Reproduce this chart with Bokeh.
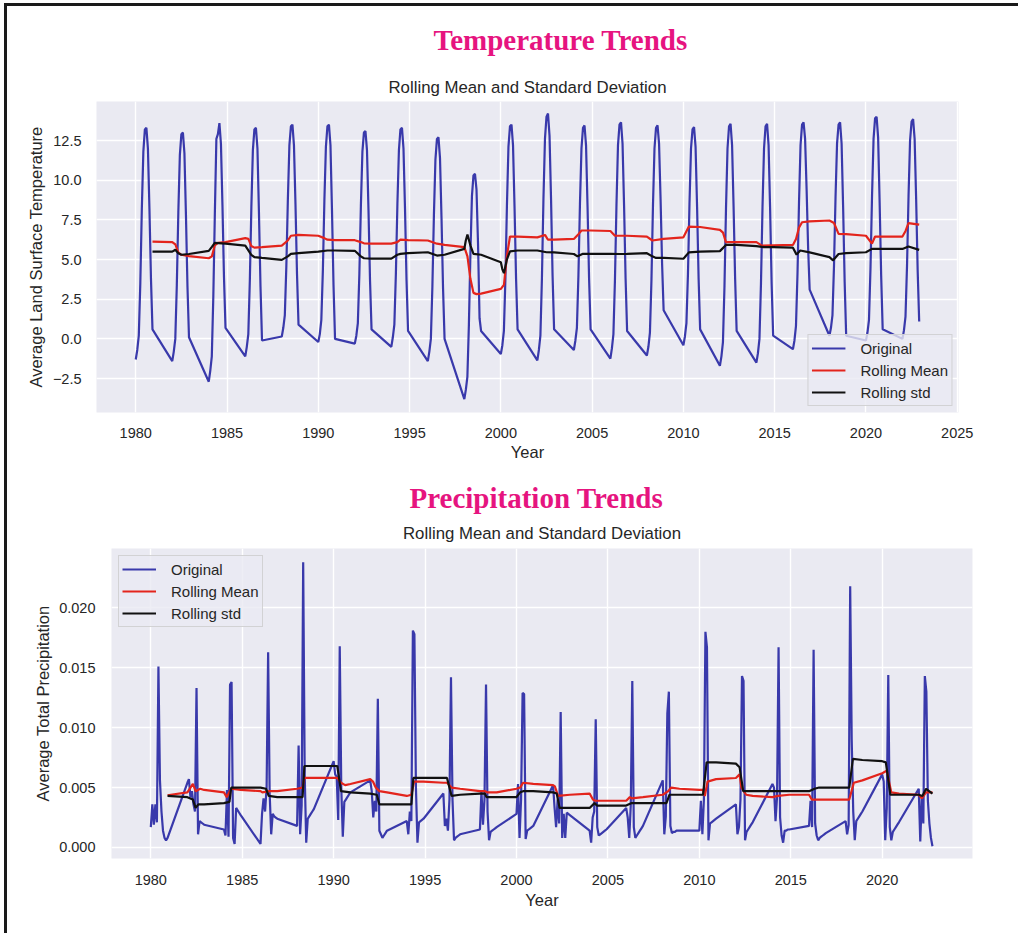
from bokeh.plotting import figure
from bokeh.models import Range1d, FixedTicker, Legend, LegendItem, Title, Spacer, Div
from bokeh.layouts import column, row
from bokeh.embed import file_html
from bokeh.resources import INLINE

# ---------------------------------------------------------------------------
# Data: monthly values for the sampled (even) years, Jan..Dec per row
# ---------------------------------------------------------------------------
sample_years = [1980, 1982, 1984, 1986, 1988, 1990, 1992, 1994, 1996, 1998, 2000,
                2002, 2004, 2006, 2008, 2010, 2012, 2014, 2016, 2018, 2020, 2022]

temperature = [
    [-1.3, -0.7, 0.2, 3.5, 8.2, 11.8, 13.2, 13.3, 12.0, 8.2, 3.8, 0.6],
    [-1.4, -0.8, 0.0, 3.4, 8.0, 11.6, 12.9, 13.0, 11.7, 7.8, 3.3, 0.1],
    [-2.7, -2.0, -1.1, 2.7, 7.9, 12.6, 12.9, 13.6, 12.3, 8.4, 3.9, 0.7],
    [-1.1, -0.5, 0.3, 3.7, 8.3, 11.9, 13.2, 13.3, 12.0, 7.9, 3.3, -0.1],
    [0.15, 0.7, 1.5, 4.6, 8.8, 12.2, 13.4, 13.5, 12.2, 8.5, 4.1, 0.9],
    [-0.2, 0.3, 1.2, 4.3, 8.7, 12.1, 13.4, 13.5, 12.2, 8.1, 3.4, 0.0],
    [-0.3, 0.2, 1.0, 4.1, 8.4, 11.8, 13.0, 13.1, 11.9, 8.1, 3.7, 0.6],
    [-0.5, 0.1, 0.9, 4.1, 8.5, 11.9, 13.2, 13.3, 12.0, 8.2, 3.7, 0.5],
    [-1.4, -0.8, 0.0, 3.3, 7.8, 11.3, 12.6, 12.7, 11.4, 7.6, 3.2, 0.0],
    [-3.8, -3.2, -2.4, 0.9, 5.4, 9.0, 10.3, 10.4, 9.4, 6.0, 1.3, 0.5],
    [-0.95, -0.4, 0.5, 3.8, 8.4, 12.1, 13.4, 13.5, 12.2, 8.3, 3.8, 0.6],
    [-1.35, -0.7, 0.2, 3.8, 8.8, 12.6, 14.0, 14.2, 12.8, 8.8, 4.0, 0.6],
    [-0.7, -0.1, 0.7, 4.0, 8.5, 12.0, 13.3, 13.45, 12.2, 8.3, 3.8, 0.6],
    [-1.25, -0.6, 0.3, 3.7, 8.4, 12.2, 13.5, 13.65, 12.3, 8.4, 3.8, 0.5],
    [-1.05, -0.5, 0.4, 3.7, 8.4, 12.0, 13.3, 13.45, 12.3, 8.8, 4.7, 1.8],
    [-0.4, 0.15, 1.0, 4.1, 8.5, 12.0, 13.2, 13.35, 12.1, 8.3, 3.8, 0.6],
    [-1.7, -1.1, -0.2, 3.3, 8.2, 12.0, 13.4, 13.55, 12.2, 8.3, 3.8, 0.5],
    [-1.5, -0.9, 0.0, 3.5, 8.3, 12.0, 13.4, 13.55, 12.2, 8.2, 3.5, 0.2],
    [-0.65, -0.1, 0.8, 4.1, 8.6, 12.2, 13.5, 13.65, 12.6, 9.4, 5.7, 3.1],
    [0.2, 0.7, 1.5, 4.6, 8.9, 12.3, 13.5, 13.65, 12.3, 8.3, 3.6, 0.2],
    [-0.1, 0.4, 1.2, 4.5, 9.0, 12.6, 13.9, 14.0, 12.7, 8.6, 4.0, 0.6],
    [0.0, 0.55, 1.4, 4.6, 9.0, 12.5, 13.7, 13.85, 12.6, 8.8, 4.3, 1.1],
]

precipitation = [
    [.0017, .0036, .0019, .0036, .0021, .0151, .0056, .0030, .0014, .0008, .0006, .0008],
    [.0054, .0057, .0042, .0047, .0036, .0030, .0133, .0011, .0022, .0021, .0020, .0019],
    [.0015, .0010, .0048, .0009, .0136, .0138, .0008, .0003, .0033, .0031, .0029, .0027],
    [.0003, .0028, .0041, .0030, .0050, .0163, .0045, .0011, .0028, .0026, .0025, .0024],
    [.0018, .0085, .0011, .0035, .0238, .0061, .0004, .0024, .0026, .0028, .0030, .0032],
    [.0072, .0061, .0059, .0023, .0168, .0050, .0009, .0038, .0040, .0042, .0044, .0046],
    [.0056, .0047, .0025, .0039, .0030, .0124, .0014, .0011, .0008, .0010, .0012, .0014],
    [.0022, .0011, .0030, .0022, .0181, .0178, .0050, .0004, .0021, .0022, .0023, .0024],
    [.0045, .0018, .0024, .0014, .0040, .0142, .0040, .0006, .0008, .0009, .0010, .0011],
    [.0015, .0047, .0019, .0040, .0136, .0030, .0006, .0013, .0014, .0015, .0016, .0017],
    [.0028, .0053, .0008, .0040, .0129, .0128, .0007, .0014, .0015, .0016, .0017, .0018],
    [.0052, .0033, .0017, .0040, .0020, .0113, .0008, .0028, .0008, .0029, .0028, .0027],
    [.0014, .0004, .0025, .0030, .0107, .0017, .0010, .0011, .0012, .0013, .0014, .0015],
    [.0033, .0025, .0008, .0035, .0139, .0017, .0008, .0010, .0012, .0014, .0016, .0018],
    [.0056, .0011, .0026, .0112, .0130, .0018, .0012, .0013, .0013, .0014, .0014, .0014],
    [.0014, .0039, .0011, .0040, .0180, .0167, .0006, .0020, .0021, .0022, .0023, .0024],
    [.0036, .0011, .0017, .0040, .0143, .0139, .0006, .0013, .0015, .0017, .0019, .0021],
    [.0053, .0050, .0022, .0042, .0167, .0025, .0010, .0004, .0014, .0014, .0015, .0015],
    [.0018, .0039, .0017, .0165, .0020, .0010, .0006, .0008, .0009, .0010, .0011, .0012],
    [.0022, .0011, .0019, .0218, .0090, .0030, .0006, .0022, .0024, .0026, .0028, .0030],
    [.0061, .0055, .0006, .0033, .0144, .0017, .0006, .0013, .0015, .0017, .0019, .0021],
    [.0049, .0005, .0042, .0020, .0143, .0130, .0039, .0020, .0008, .0001],
]

# Rolling statistics (12-month window), as (decimal year, value)
temp_mean_t = [1980.917, 1982.0, 1982.17, 1982.33, 1982.5, 1982.917, 1984.0, 1984.17, 1984.33, 1984.5,
               1984.917, 1986.0, 1986.17, 1986.33, 1986.5, 1986.917, 1988.0, 1988.33, 1988.5, 1988.917,
               1990.0, 1990.33, 1990.5, 1990.917, 1992.0, 1992.33, 1992.5, 1992.917, 1994.0, 1994.33,
               1994.5, 1994.917, 1996.0, 1996.5, 1996.917, 1998.0, 1998.17, 1998.33, 1998.5, 1998.67,
               1998.917, 2000.0, 2000.17, 2000.33, 2000.5, 2000.917, 2002.0, 2002.42, 2002.58, 2002.917,
               2004.0, 2004.25, 2004.42, 2004.917, 2006.0, 2006.25, 2006.917, 2008.0, 2008.3, 2008.917,
               2010.0, 2010.3, 2010.917, 2012.0, 2012.17, 2012.33, 2012.917, 2014.0, 2014.3, 2014.917,
               2016.0, 2016.17, 2016.33, 2016.5, 2016.917, 2018.0, 2018.25, 2018.5, 2018.917, 2020.0,
               2020.33, 2020.5, 2020.917, 2022.0, 2022.17, 2022.33, 2022.917]
temp_mean_v = [6.13, 6.10, 5.95, 5.45, 5.30, 5.22, 5.08, 5.2, 5.9, 6.05,
               6.1, 6.35, 6.3, 5.85, 5.75, 5.78, 5.88, 6.2, 6.5, 6.55,
               6.5, 6.35, 6.25, 6.22, 6.22, 6.1, 6.02, 6.0, 6.0, 6.1,
               6.25, 6.22, 6.2, 6.0, 5.92, 5.78, 5.2, 3.8, 2.9, 2.82,
               2.85, 3.15, 3.4, 5.2, 6.45, 6.45, 6.4, 6.55, 6.25, 6.25,
               6.3, 6.6, 6.83, 6.83, 6.8, 6.5, 6.5, 6.45, 6.2, 6.3,
               6.4, 7.08, 7.05, 6.87, 6.7, 6.1, 6.1, 6.1, 5.88, 5.9,
               5.92, 6.3, 7.0, 7.35, 7.4, 7.46, 7.3, 6.62, 6.6, 6.5,
               6.0, 6.45, 6.45, 6.45, 6.8, 7.3, 7.2]

temp_std_t = [1980.917, 1982.0, 1982.17, 1982.33, 1982.5, 1982.917, 1984.0, 1984.17, 1984.33, 1984.917,
              1986.0, 1986.33, 1986.5, 1986.917, 1988.0, 1988.33, 1988.5, 1988.917, 1990.0, 1990.5,
              1990.917, 1992.0, 1992.33, 1992.5, 1992.917, 1994.0, 1994.33, 1994.5, 1994.917, 1996.0,
              1996.5, 1996.917, 1998.0, 1998.08, 1998.17, 1998.33, 1998.5, 1998.917, 2000.0, 2000.08,
              2000.17, 2000.33, 2000.5, 2000.917, 2002.0, 2002.5, 2002.917, 2004.0, 2004.2, 2004.5,
              2004.917, 2006.0, 2006.5, 2006.917, 2008.0, 2008.3, 2008.5, 2008.917, 2010.0, 2010.3,
              2010.917, 2012.0, 2012.33, 2012.917, 2014.0, 2014.4, 2014.917, 2016.0, 2016.2, 2016.4,
              2016.917, 2018.0, 2018.2, 2018.5, 2018.917, 2020.0, 2020.33, 2020.917, 2022.0, 2022.33,
              2022.917]
temp_std_v = [5.5, 5.5, 5.62, 5.4, 5.3, 5.35, 5.55, 5.8, 6.05, 6.0,
              5.88, 5.3, 5.15, 5.1, 4.98, 5.2, 5.36, 5.4, 5.5, 5.57,
              5.57, 5.55, 5.2, 5.08, 5.06, 5.06, 5.3, 5.36, 5.4, 5.46,
              5.25, 5.3, 5.67, 6.2, 6.58, 5.9, 5.36, 5.3, 4.83, 4.4,
              4.14, 5.0, 5.52, 5.57, 5.57, 5.46, 5.45, 5.35, 5.2, 5.36,
              5.36, 5.36, 5.35, 5.36, 5.4, 5.2, 5.1, 5.1, 5.05, 5.45,
              5.5, 5.53, 5.92, 5.92, 5.85, 5.78, 5.78, 5.75, 5.31, 5.57,
              5.45, 5.15, 4.95, 5.35, 5.4, 5.46, 5.67, 5.67, 5.67, 5.82,
              5.61]

prec_mean_t = [1980.917, 1982.0, 1982.17, 1982.3, 1982.45, 1982.7, 1982.917, 1984.0, 1984.15, 1984.4,
               1984.917, 1986.0, 1986.1, 1986.5, 1986.917, 1988.0, 1988.3, 1988.4, 1988.917, 1990.0,
               1990.2, 1990.4, 1990.63, 1990.917, 1992.0, 1992.15, 1992.3, 1992.5, 1992.917, 1994.0,
               1994.25, 1994.4, 1994.917, 1996.0, 1996.2, 1996.45, 1996.917, 1998.0, 1998.27, 1998.4,
               1998.917, 2000.0, 2000.2, 2000.36, 2000.917, 2002.0, 2002.1, 2002.27, 2002.917, 2004.0,
               2004.18, 2004.3, 2004.917, 2006.0, 2006.2, 2006.3, 2006.917, 2008.0, 2008.3, 2008.46,
               2008.917, 2010.0, 2010.2, 2010.3, 2010.45, 2010.917, 2012.0, 2012.2, 2012.3, 2012.56,
               2012.917, 2014.0, 2014.3, 2014.917, 2016.0, 2016.15, 2016.917, 2018.0, 2018.2, 2018.45,
               2018.917, 2020.0, 2020.25, 2020.5, 2020.917, 2022.0, 2022.17, 2022.4, 2022.75]
prec_mean_v = [.00436, .0046, .0050, .0053, .0047, .0049, .0048, .0046, .0042, .0049,
               .0048, .0047, .0046, .0047, .0047, .0049, .0050, .0058, .0058, .0058,
               .0058, .0054, .0052, .0053, .0057, .0055, .0050, .0047, .0046, .0043,
               .0044, .0055, .0055, .0054, .0054, .0050, .0049, .0047, .0047, .0046,
               .0046, .0049, .0050, .0054, .0053, .0052, .0051, .0043, .0044, .0045,
               .0040, .0039, .0039, .0039, .0042, .0041, .0042, .0044, .0047, .0050,
               .0049, .0048, .0048, .0043, .0055, .0057, .0058, .0061, .0050, .0044,
               .0043, .0042, .0043, .0044, .0044, .0040, .0040, .0040, .0040, .0054,
               .0056, .0062, .0064, .0046, .0045, .0044, .0041, .0046, .0046]

prec_std_t = [1980.917, 1982.0, 1982.3, 1982.45, 1982.6, 1982.917, 1984.0, 1984.3, 1984.4, 1984.917,
              1986.0, 1986.3, 1986.45, 1986.917, 1988.0, 1988.3, 1988.4, 1988.917, 1990.0, 1990.2,
              1990.4, 1990.917, 1992.0, 1992.36, 1992.5, 1992.917, 1994.0, 1994.25, 1994.36, 1994.917,
              1996.0, 1996.2, 1996.45, 1996.917, 1998.0, 1998.27, 1998.36, 1998.917, 2000.0, 2000.2,
              2000.36, 2000.917, 2002.0, 2002.2, 2002.36, 2002.917, 2004.0, 2004.27, 2004.4, 2004.917,
              2006.0, 2006.27, 2006.917, 2008.0, 2008.2, 2008.37, 2008.917, 2010.0, 2010.2, 2010.4,
              2010.917, 2012.0, 2012.2, 2012.4, 2012.917, 2014.0, 2014.38, 2014.917, 2016.0, 2016.3,
              2016.55, 2016.917, 2018.0, 2018.2, 2018.4, 2018.917, 2020.0, 2020.2, 2020.45, 2020.917,
              2022.0, 2022.2, 2022.4, 2022.75]
prec_std_v = [.0043, .0042, .0040, .0033, .0036, .0036, .0037, .0038, .0050, .0050,
              .0050, .0049, .0043, .0042, .0042, .0042, .0068, .0068, .0068, .0068,
              .0047, .0046, .0045, .0044, .0036, .0036, .0036, .0036, .0058, .0058,
              .0058, .0058, .0043, .0044, .0045, .0045, .0042, .0042, .0042, .0046,
              .0047, .0047, .0046, .0045, .0033, .0033, .0033, .0037, .0035, .0035,
              .0035, .0037, .0037, .0037, .0037, .0044, .0044, .0044, .0044, .0071,
              .0071, .0070, .0067, .0047, .0047, .0047, .0047, .0047, .0047, .0049,
              .0050, .0050, .0050, .0050, .0074, .0073, .0072, .0071, .0044, .0044,
              .0044, .0043, .0049, .0045]

year_ticks = [1980, 1985, 1990, 1995, 2000, 2005, 2010, 2015, 2020, 2025]
temp_ticks = [-2.5, 0.0, 2.5, 5.0, 7.5, 10.0, 12.5]
prec_ticks = [0.000, 0.005, 0.010, 0.015, 0.020]

# ---------------------------------------------------------------------------
BG = "#EAEAF2"
TXT = "#262626"
SANS = "Liberation Sans"
BLUE, RED, BLACK = "#2f2fa6", "#e3241c", "#111111"


def monthly_series(years, rows):
    xs, ys = [], []
    for yr, vals in zip(years, rows):
        for m, v in enumerate(vals):
            xs.append(yr + m / 12.0)
            ys.append(v)
    return xs, ys


def label_text(v, fmt):
    return (fmt % v).replace("-", "\u2212")


def panel(height, x_end, y_rng, borders, heading, heading_offset, title_standoffs, ylabel,
          yticks, yfmt, orig, mean, std, legend_loc, legend_margin, y_standoffs, x_standoffs):
    bl, br, bt, bb = borders
    p = figure(width=1011, height=height, output_backend="svg", toolbar_location=None,
               x_range=Range1d(1977.85, x_end), y_range=Range1d(*y_rng), frame_align=False,
               min_border_left=bl, min_border_right=br, min_border_top=bt, min_border_bottom=bb)
    p.background_fill_color = BG
    p.border_fill_color = "white"
    p.outline_line_color = None

    # titles: the subtitle sits next to the frame, the heading above it
    p.add_layout(Title(text="Rolling Mean and Standard Deviation", align="center",
                       text_font=SANS, text_font_size="16.8px", text_font_style="normal",
                       text_color=TXT, standoff=title_standoffs[0]), "above")
    p.add_layout(Title(text=heading, align="left", offset=heading_offset,
                       text_font="Liberation Serif", text_font_size="29px",
                       text_font_style="bold", text_color="#E6147F",
                       standoff=title_standoffs[1]), "above")

    for ax in (p.xaxis[0], p.yaxis[0]):
        ax.axis_line_color = None
        ax.major_tick_line_color = None
        ax.minor_tick_line_color = None
        ax.major_tick_out = 0
        ax.major_tick_in = 0
        ax.major_label_text_font = SANS
        ax.major_label_text_font_size = "14.5px"
        ax.major_label_text_color = TXT
        ax.axis_label_text_font = SANS
        ax.axis_label_text_font_size = "16.5px"
        ax.axis_label_text_font_style = "normal"
        ax.axis_label_text_color = TXT

    p.xaxis.ticker = FixedTicker(ticks=year_ticks)
    p.xaxis.major_label_overrides = {t: str(t) for t in year_ticks}
    p.xaxis.axis_label = "Year"
    p.xaxis.major_label_standoff = x_standoffs[0]
    p.xaxis.axis_label_standoff = x_standoffs[1]

    p.yaxis.ticker = FixedTicker(ticks=yticks)
    p.yaxis.major_label_overrides = {t: label_text(t, yfmt) for t in yticks}
    p.yaxis.axis_label = ylabel
    p.yaxis.major_label_standoff = y_standoffs[0]
    p.yaxis.axis_label_standoff = y_standoffs[1]

    p.xgrid.ticker = FixedTicker(ticks=year_ticks)
    p.ygrid.ticker = FixedTicker(ticks=yticks)
    for g in (p.xgrid[0], p.ygrid[0]):
        g.grid_line_color = "white"
        g.grid_line_width = 1.4

    ox, oy = orig
    r0 = p.line(ox, oy, line_color=BLUE, line_width=2.2, line_alpha=0.95)
    r1 = p.line(mean[0], mean[1], line_color=RED, line_width=2.2)
    r2 = p.line(std[0], std[1], line_color=BLACK, line_width=2.2)

    legend = Legend(items=[LegendItem(label="Original", renderers=[r0]),
                           LegendItem(label="Rolling Mean", renderers=[r1]),
                           LegendItem(label="Rolling std", renderers=[r2])],
                    location=legend_loc, margin=legend_margin, padding=3, spacing=2,
                    glyph_width=34, glyph_height=20, label_height=20, label_standoff=15,
                    label_text_font=SANS, label_text_font_size="15px", label_text_color=TXT,
                    background_fill_color=BG, background_fill_alpha=0.8,
                    border_line_color="#cccccc", border_line_alpha=0.8, border_line_width=1)
    p.add_layout(legend)
    return p


temp_xy = monthly_series(sample_years, temperature)
prec_xy = monthly_series(sample_years, precipitation)

top = panel(464, 2025.07, (-4.64, 14.96), (89, 60, 95, 58), "Temperature Trends", 337, (10, 29),
            "Average Land Surface Temperature", temp_ticks, "%.1f",
            temp_xy, (temp_mean_t, temp_mean_v), (temp_std_t, temp_std_v),
            "bottom_right", 6, (15, 5), (15, 2))
bottom = panel(463, 2024.94, (-0.00092, 0.02495), (104, 46, 78, 75), "Precipitation Trends", 298,
               (12, 4), "Average Total Precipitation", prec_ticks, "%.3f",
               prec_xy, (prec_mean_t, prec_mean_v), (prec_std_t, prec_std_v),
               "top_left", 7, (16, 4), (16, 3))

FRAME = "#1a1a1a"
layout = column(
    Spacer(width=1018, height=3, margin=0),
    row(Spacer(width=4, height=930, margin=0),
        column(Div(width=1014, height=3, margin=0, styles={"background-color": FRAME}),
               row(Div(width=3, height=927, margin=0, styles={"background-color": FRAME}),
                   column(top, bottom)))),
)

open("out.html", "w").write(file_html(layout, INLINE))
